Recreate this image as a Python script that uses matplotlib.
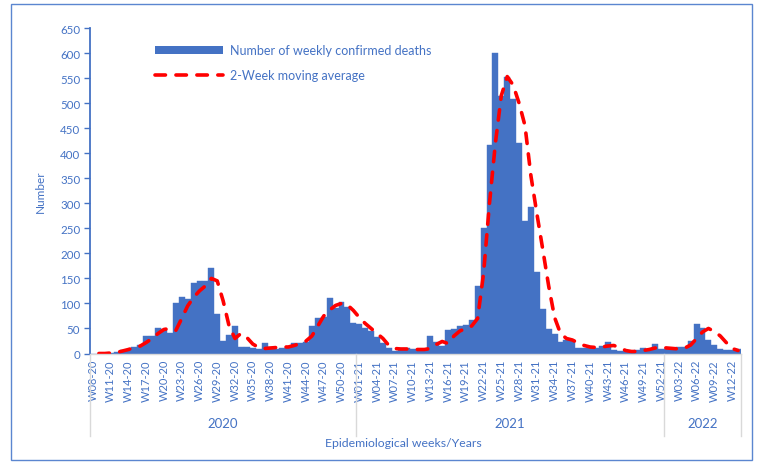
import numpy as np
import matplotlib.pyplot as plt
from matplotlib.patches import Patch, Rectangle
from matplotlib.lines import Line2D

plt.rcParams['font.family'] = ['Lato', 'DejaVu Sans']

# weekly confirmed deaths, W08-20 .. W13-22
deaths_2020 = [0, 0, 0, 1, 2, 6, 7, 12, 17, 35, 35, 50, 48, 40, 100, 113, 109, 141, 145, 145,
               171, 78, 25, 37, 55, 13, 13, 10, 9, 21, 12, 8, 10, 13, 21, 21, 22, 55, 70, 72,
               111, 91, 102, 93, 60]
deaths_2021 = [58, 51, 45, 33, 20, 10, 5, 10, 10, 9, 5, 7, 35, 22, 15, 47, 49, 54, 56, 67,
               135, 250, 416, 601, 514, 553, 508, 420, 264, 292, 162, 89, 49, 39, 22, 26, 26, 10, 10, 10,
               11, 14, 22, 6, 5, 5, 4, 7, 10, 9, 18, 9]
deaths_2022 = [9, 10, 12, 12, 24, 59, 50, 26, 16, 9, 7, 7, 9]

# 2-week moving average as drawn
ma_2020 = [np.nan, 0, 0, 1, 2, 5, 8, 12, 15, 22, 30, 40, 48, 50, 46, 70, 95, 112, 125, 135,
           150, 145, 105, 55, 30, 40, 32, 19, 12, 10, 11, 12, 13, 13, 16, 20, 25, 35, 55, 75,
           87, 96, 100, 97, 86]
ma_2021 = [72, 60, 50, 40, 30, 16, 10, 9, 9, 8, 8, 8, 10, 18, 24, 20, 35, 45, 50, 55,
           70, 160, 300, 420, 515, 553, 536, 500, 455, 355, 280, 208, 135, 72, 40, 30, 27, 21, 16, 13,
           12, 13, 15, 16, 12, 6, 4, 4, 6, 8, 11, 12]
ma_2022 = [11, 10, 9, 11, 17, 30, 43, 50, 44, 35, 22, 10, 6]

weeks = ([f"W{w:02d}-20" for w in range(8, 53)] +
         [f"W{w:02d}-21" for w in range(1, 53)] +
         [f"W{w:02d}-22" for w in range(1, 14)])
years = ["2020", "2021", "2022"]

deaths = deaths_2020 + deaths_2021 + deaths_2022
ma = ma_2020 + ma_2021 + ma_2022
x = np.arange(len(deaths))

blue = '#4472C4'
grey = '#D9D9D9'

W, H = 759, 464
fig = plt.figure(figsize=(W / 100, H / 100), dpi=100)
ax = fig.add_axes([90 / W, 1 - 354.5 / H, 651 / W, 325.5 / H])

ax.bar(x, deaths, width=1.0, color=blue, linewidth=0.3, edgecolor=blue)
ax.plot(x, ma, color='red', lw=2.6, ls=(0, (2.9, 2.9)), dash_capstyle='round')

ax.set_xlim(-0.5, len(deaths) - 0.5)
ax.set_ylim(0, 650)
ax.set_yticks(range(0, 651, 50))
ax.tick_params(axis='y', direction='out', length=4, width=1, color=blue,
               labelcolor=blue, labelsize=8.3, pad=3)
ax.set_xticks(x[::3])
ax.set_xticklabels(weeks[::3], rotation=90)
ax.tick_params(axis='x', length=0, labelcolor=blue, labelsize=8, pad=4)

for s in ['top', 'right']:
    ax.spines[s].set_visible(False)
ax.spines['left'].set_color(blue)
ax.spines['left'].set_linewidth(1.3)
ax.spines['bottom'].set_color(grey)
ax.spines['bottom'].set_linewidth(1)

ax.set_ylabel('Number', color=blue, fontsize=8.5, labelpad=10)

# year grouping below the week labels
counts = [len(deaths_2020), len(deaths_2021), len(deaths_2022)]
edges = np.concatenate([[0], np.cumsum(counts)]) - 0.5
tr = ax.get_xaxis_transform()
for e in edges:
    ax.plot([e, e], [0, -0.2535], transform=tr, color=grey, lw=1, clip_on=False)
for i, yr in enumerate(years):
    ax.text((edges[i] + edges[i + 1]) / 2, -0.2135, yr, transform=tr, ha='center', va='center',
            color=blue, fontsize=9.5)

fig.text(403.7 / W, 1 - 444 / H, 'Epidemiological weeks/Years', ha='center', va='center',
         color=blue, fontsize=8.8)

handles = [Patch(facecolor=blue, edgecolor='none'),
           Line2D([0], [0], color='red', lw=2.6, ls=(0, (2.9, 2.9)), dash_capstyle='round')]
fig.legend(handles, ['Number of weekly confirmed deaths', '2-Week moving average'],
           loc='upper left', bbox_to_anchor=(149 / W, 1 - 39 / H), frameon=False,
           handlelength=5.4, handleheight=0.55, handletextpad=0.55, labelspacing=1.05,
           borderpad=0, fontsize=9, labelcolor=blue)

fig.add_artist(Rectangle((11 / W, 3 / H), 741 / W, 456 / H, transform=fig.transFigure,
                         fill=False, edgecolor='#5B86D0', lw=1))

plt.savefig('out.png', dpi=100)
